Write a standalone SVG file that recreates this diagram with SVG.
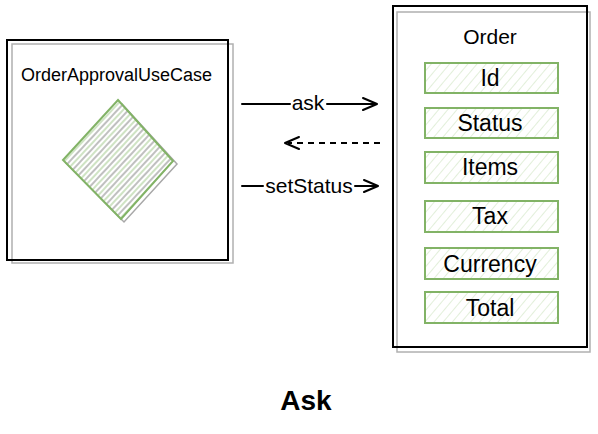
<svg xmlns="http://www.w3.org/2000/svg" width="598" height="434" viewBox="0 0 598 434">
  <style>
    .frame { fill: none; stroke: #000; stroke-width: 2; }
    .shadow { fill: none; stroke: #b0b0b0; stroke-width: 1.5; }
    .field { fill: url(#fieldHatch); stroke: #82b366; stroke-width: 2; }
    .txt { font-family: "Liberation Sans", Arial, sans-serif; fill: #000; }
    .lbl { font-size: 21px; text-anchor: middle; }
    .ftxt { font-size: 23px; text-anchor: middle; }
    .conn { fill: none; stroke: #000; stroke-width: 2; stroke-linecap: round; stroke-linejoin: round; }
    .dash { stroke-dasharray: 6 5; stroke-linecap: butt; }
  </style>
  <defs>
    <pattern id="fieldHatch" patternUnits="userSpaceOnUse" width="7" height="7" patternTransform="rotate(40)">
      <rect width="7" height="7" fill="#fff"/>
      <line x1="0" y1="0" x2="0" y2="7" stroke="#cfe5c2" stroke-width="1.2"/>
    </pattern>
    <pattern id="diamondHatch" patternUnits="userSpaceOnUse" width="8" height="8" patternTransform="rotate(43)">
      <rect width="8" height="8" fill="#fff"/>
      <line x1="1" y1="0" x2="1" y2="8" stroke="#9e9e9e" stroke-width="1.3"/>
      <line x1="5" y1="0" x2="5" y2="8" stroke="#b5d4a5" stroke-width="1.3"/>
    </pattern>
  </defs>
  <rect width="598" height="434" fill="#fff"/>

  <g id="node-usecase">
    <rect class="shadow" x="12" y="44" width="221" height="219"/>
    <rect class="frame" x="7" y="40" width="221" height="220"/>
    <text class="txt" x="21" y="81" font-size="18">OrderApprovalUseCase</text>
    <polygon points="122,104 177,164 124,222 66,163" fill="none" stroke="#a8a8a8" stroke-width="1.5"/>
    <polygon points="118,100 173,161 121,219 63,160" fill="url(#diamondHatch)" stroke="#82b366" stroke-width="2"/>
  </g>

  <g id="node-order">
    <rect class="shadow" x="397" y="12" width="193" height="340"/>
    <rect class="frame" x="393" y="6" width="194" height="341"/>
    <text class="txt lbl" x="490" y="44">Order</text>
    <g id="field-id">
      <rect class="field" x="425" y="63" width="133" height="30"/>
      <text class="txt ftxt" x="490" y="86">Id</text>
    </g>
    <g id="field-status">
      <rect class="field" x="425" y="108" width="133" height="30"/>
      <text class="txt ftxt" x="490" y="131">Status</text>
    </g>
    <g id="field-items">
      <rect class="field" x="425" y="152" width="133" height="31"/>
      <text class="txt ftxt" x="490" y="175">Items</text>
    </g>
    <g id="field-tax">
      <rect class="field" x="425" y="201" width="133" height="31"/>
      <text class="txt ftxt" x="490" y="224">Tax</text>
    </g>
    <g id="field-currency">
      <rect class="field" x="425" y="248" width="133" height="31"/>
      <text class="txt ftxt" x="490" y="272">Currency</text>
    </g>
    <g id="field-total">
      <rect class="field" x="425" y="292" width="133" height="31"/>
      <text class="txt ftxt" x="490" y="316">Total</text>
    </g>
  </g>

  <g id="connectors">
    <g id="conn-ask">
      <line class="conn" x1="242" y1="104" x2="290" y2="104"/>
      <line class="conn" x1="327" y1="104" x2="376" y2="104"/>
      <polyline class="conn" points="363,98 377,104 363,110"/>
      <text class="txt lbl" x="308" y="110">ask</text>
    </g>
    <g id="conn-return">
      <line class="conn dash" x1="380" y1="143" x2="288" y2="143"/>
      <polyline class="conn" points="299,137 285,143 299,149"/>
    </g>
    <g id="conn-setstatus">
      <line class="conn" x1="242" y1="186" x2="263" y2="186"/>
      <line class="conn" x1="355" y1="186" x2="377" y2="186"/>
      <polyline class="conn" points="364,180 378,186 364,192"/>
      <text class="txt lbl" x="309" y="193">setStatus</text>
    </g>
  </g>

  <text id="title" class="txt" x="306" y="410" font-size="28" font-weight="bold" text-anchor="middle">Ask</text>
</svg>
